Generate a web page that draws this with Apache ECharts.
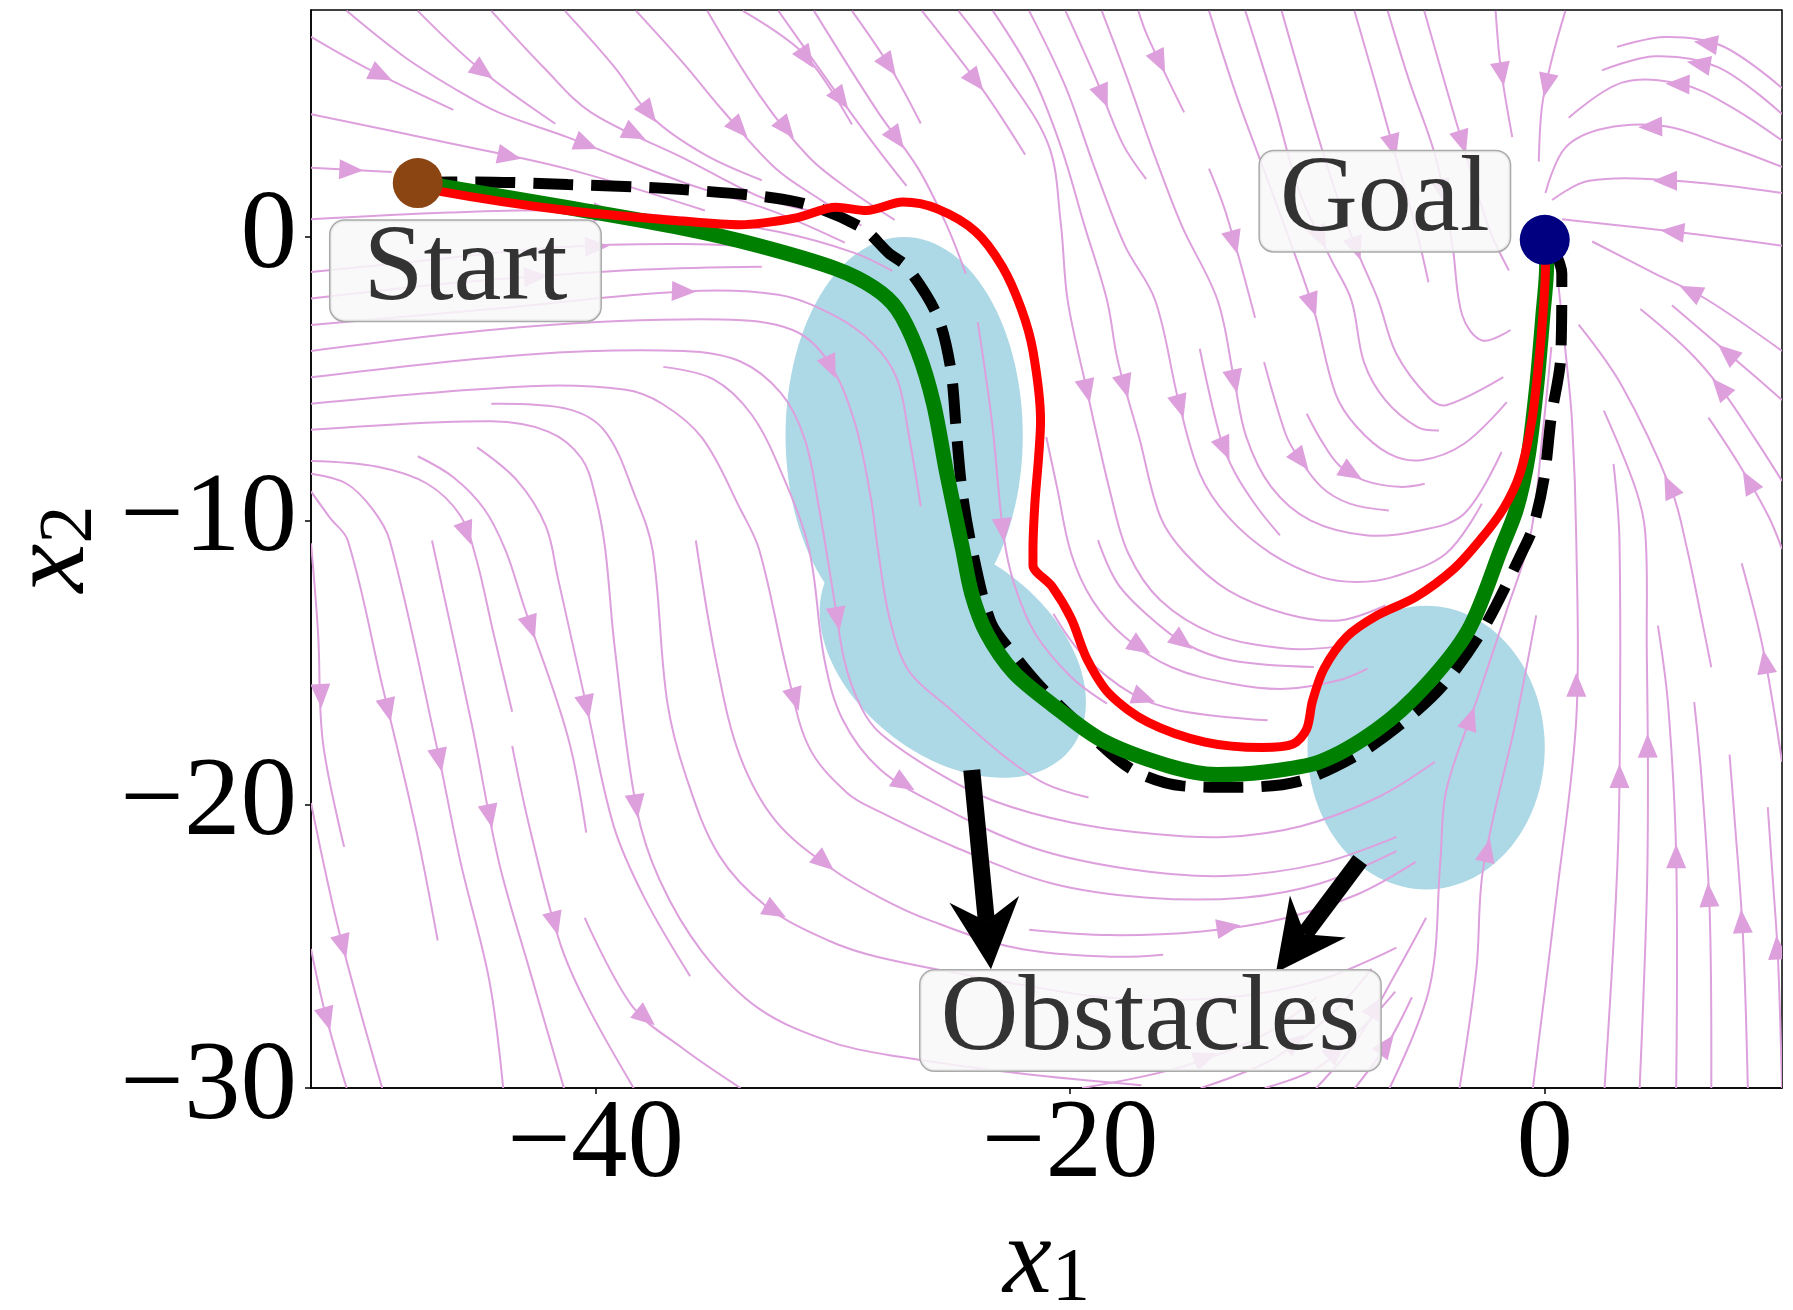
<!DOCTYPE html>
<html lang="en">
<head>
  <meta charset="UTF-8">
  <title>Start / Goal streamplot with obstacles</title>
  <script src="https://cdn.jsdelivr.net/npm/echarts@6/dist/echarts.min.js"></script>
  <style>
    html, body { margin: 0; padding: 0; background: #fff; }
    #chart { width: 1793px; height: 1310px; }
  </style>
</head>
<body>
  <div id="chart"></div>
  <script>
    // axis ticks
    const xTickValues = [-40, -20, 0];
    const yTickValues = [-30, -20, -10, 0];

    // start / goal points
    const startPoint = [-47.5, 1.9];
    const goalPoint = [0, -0.1];

    // obstacles: [cx, cy, rx, ry, angle in degrees]
    const obstacles = [
      [-27, -7, 5, 7, 0],
      [-24.95, -14.8, 6.0, 3.7, -26.7],
      [-5, -18, 5, 5, 0]
    ];

    // trajectories
    const dashedPath = [[-47.52,1.92],[-45.06,1.94],[-41.17,1.85],[-36.34,1.67],[-31.5,1.23],[-28.77,0.32],[-27.66,-0.56],[-26.89,-1.05],[-25.6,-2.78],[-25.04,-4.64],[-24.8,-6.85],[-24.56,-8.95],[-24.15,-10.95],[-23.34,-13.59],[-22.38,-14.72],[-21.25,-15.85],[-19.57,-17.22],[-17.45,-18.75],[-15.28,-19.35],[-12.87,-19.4],[-10.36,-19.19],[-8.0,-18.31],[-6.07,-17.18],[-4.29,-15.81],[-2.6,-13.83],[-0.92,-11.05],[-0.48,-10.2],[-0.02,-8.47],[0.27,-6.37],[0.67,-4.27],[0.72,-1.29],[0.3,-0.3]];
    const greenPath = [[-47.52,1.9],[-46.51,1.79],[-41.17,1.03],[-36.34,0.31],[-33.12,-0.31],[-29.88,-1.12],[-28.27,-1.79],[-27.3,-2.54],[-26.43,-4.02],[-25.76,-5.88],[-25.2,-8.35],[-24.55,-10.95],[-24.15,-12.58],[-23.52,-13.97],[-22.38,-15.35],[-20.77,-16.48],[-18.67,-17.74],[-15.92,-18.63],[-13.83,-18.95],[-11.9,-18.87],[-9.47,-18.5],[-7.06,-17.36],[-5.06,-15.85],[-3.2,-13.83],[-1.81,-10.93],[-1.19,-9.59],[-0.7,-7.73],[-0.34,-5.26],[-0.08,-2.78],[0.08,-0.99],[0.05,-0.1]];
    const redPath = [[-47.52,1.9],[-46.5,1.6],[-41.17,0.93],[-36.34,0.56],[-33.93,0.43],[-31.5,0.68],[-29.88,1.05],[-28.59,0.93],[-27.05,1.23],[-25.6,0.99],[-23.99,0.19],[-22.86,-1.05],[-22.06,-2.54],[-21.57,-4.02],[-21.25,-6.49],[-21.33,-7.73],[-21.49,-9.4],[-21.57,-11.05],[-21.57,-11.57],[-20.77,-12.32],[-19.95,-13.47],[-19.31,-14.85],[-18.35,-16.11],[-16.72,-17.11],[-14.32,-17.81],[-11.9,-18.0],[-10.62,-17.88],[-10.04,-17.36],[-9.79,-16.36],[-9.31,-15.23],[-8.34,-14.09],[-7.06,-13.34],[-5.45,-12.7],[-3.83,-11.7],[-2.73,-10.69],[-1.75,-9.59],[-1.05,-8.35],[-0.55,-6.49],[-0.28,-4.64],[-0.08,-2.78],[0.03,-1.05],[0.0,-0.12]];

    // text annotations: [text, x, y]
    const labels = [
      ['Start', -45.49, -1.19],
      ['Goal', -6.74, 1.26],
      ['Obstacles', -16.62, -27.62]
    ];

    // arrows from the obstacles to the "Obstacles" text: [tail, tip]
    const obstacleArrows = [
      [[-24.15, -18.79], [-23.34, -25.81]],
      [[-7.78, -21.97], [-11.33, -25.93]]
    ];

    // streamlines, in flow order
    const streamlines = [
      // top left, heading south-east
      [[-52.0,7.05],[-49.7,5.97],[-46.0,4.48]],
      [[-50.5,7.97],[-48.1,6.37],[-46.0,5.25],[-44.1,4.39],[-41.2,3.52],[-36.3,1.92],[-32.6,0.93],[-29.5,-0.2]],
      [[-47.5,7.97],[-44.9,5.93],[-41.7,3.99]],
      [[-44.4,7.97],[-42.2,5.98],[-40.2,4.39],[-36.3,2.78],[-33.1,1.42],[-31.0,0.93]],
      [[-41.3,7.97],[-39.2,5.98],[-37.6,4.2],[-35.4,2.9],[-33.0,2.0]],
      [[-38.3,7.97],[-36.3,6.12],[-34.7,4.51],[-32.4,2.4],[-30.5,1.3],[-28.8,0.4]],
      [[-35.3,7.97],[-33.1,5.0],[-31.0,2.8],[-29.2,1.6],[-27.4,0.6]],
      [[-33.8,7.97],[-31.2,6.43],[-29.2,3.96]],
      [[-32.3,7.97],[-29.9,5.13],[-28.3,3.3],[-26.9,1.8]],
      [[-30.8,7.97],[-28.1,4.4],[-26.4,2.4],[-25.2,0.4],[-24.4,-1.3]],
      [[-29.2,7.97],[-27.6,6.0],[-26.3,4.0]],
      // left side, heading east then south
      [[-52.0,4.33],[-46.3,3.33],[-41.2,2.4],[-35.4,0.93]],
      [[-52.0,2.44],[-50.0,2.35],[-48.6,2.29]],
      [[-52.0,0.62],[-46.2,0.86],[-41.2,0.93],[-36.3,0.68],[-32.3,0.18],[-29.1,-0.56],[-27.5,-1.2]],
      [[-52.0,-1.24],[-47.6,-0.87],[-41.7,-0.37],[-36.3,-0.25],[-32.3,-0.43],[-30.0,-0.9],[-28.2,-1.8]],
      [[-52.0,-2.17],[-47.0,-1.7],[-43.0,-1.42],[-38.0,-1.15],[-33.0,-1.05]],
      [[-52.0,-3.1],[-44.4,-2.54],[-36.3,-1.92],[-32.3,-2.04],[-29.9,-2.79],[-28.3,-3.77],[-27.3,-5.0],[-26.8,-7.0],[-26.3,-9.5]],
      [[-52.0,-4.02],[-42.8,-3.16],[-34.7,-2.91],[-31.7,-3.28],[-30.2,-4.39],[-29.1,-6.49],[-28.4,-9.22],[-28.1,-11.05],[-27.6,-13.5],[-26.8,-15.3],[-25.12,-16.6],[-22.86,-18.25],[-21.08,-19.26],[-19.23,-19.76]],
      [[-52.0,-4.95],[-42.8,-4.14],[-36.3,-4.02],[-33.9,-4.39],[-32.2,-5.5],[-31.2,-7.1],[-30.6,-9.5],[-30.0,-12.5],[-29.5,-15.0],[-28.8,-16.6],[-28.0,-17.5],[-25.6,-18.88],[-23.18,-19.89],[-19.96,-20.64],[-16.73,-21.02],[-13.5,-21.15],[-10.28,-20.77],[-7.05,-19.76],[-4.63,-18.5]],
      [[-37.15,-4.58],[-35.05,-5.01],[-33.44,-6.25],[-32.15,-8.35],[-31.0,-11.05],[-30.37,-14.85],[-29.6,-17.0],[-28.02,-18.76],[-25.44,-20.08],[-21.57,-21.53],[-17.54,-22.28],[-13.5,-22.53],[-9.47,-22.09],[-6.25,-21.15]],
      [[-52.0,-5.88],[-42.8,-5.26],[-38.8,-5.38],[-37.2,-5.88],[-35.5,-7.1],[-33.9,-9.6],[-33.1,-11.05],[-31.9,-15.42],[-31.0,-18.0],[-29.4,-19.6],[-28.02,-20.27],[-24.8,-21.53],[-20.76,-22.79],[-16.73,-23.29],[-12.7,-23.29],[-9.47,-22.79],[-6.25,-21.65]],
      [[-35.78,-10.7],[-34.89,-15.1],[-33.92,-18.3],[-32.4,-20.6],[-30.0,-22.3],[-28.02,-23.29],[-26.08,-24.04],[-22.37,-25.05],[-18.34,-25.37],[-16.08,-25.3]],
      [[-21.73,-24.42],[-18.34,-24.61],[-14.47,-24.48],[-11.09,-24.04],[-7.86,-23.16],[-5.44,-22.03]],
      [[-44.4,-5.88],[-41.2,-6.06],[-39.6,-6.86],[-38.3,-9.22],[-37.6,-11.05],[-36.99,-16.36],[-36.2,-19.0],[-34.8,-21.8],[-32.8,-23.6],[-30.2,-24.8],[-28.02,-25.4],[-23.18,-26.19],[-18.34,-26.82],[-13.5,-26.82],[-9.47,-26.19],[-6.25,-25.05]],
      [[-52.0,-6.8],[-44.4,-6.5],[-42.0,-6.86],[-40.6,-7.8],[-40.0,-9.2],[-39.6,-11.0],[-39.2,-14.47],[-38.28,-20.14],[-37.31,-22.66],[-35.53,-25.18],[-33.12,-27.2],[-30.0,-28.4],[-27.18,-28.9],[-22.0,-29.5],[-17.0,-29.9]],
      [[-45.0,-7.42],[-43.3,-8.6],[-42.1,-10.2],[-41.6,-12.0],[-40.37,-16.6],[-39.24,-20.77],[-37.95,-23.29],[-36.02,-26.06]],
      [[-47.5,-7.73],[-46.0,-8.47],[-44.7,-9.59],[-43.8,-11.05],[-43.03,-13.0],[-41.18,-17.6],[-40.4,-21.0]],
      [[-43.52,-17.94],[-42.8,-20.77],[-41.5,-24.9],[-40.37,-27.07],[-38.4,-30.0]],
      [[-40.46,-24.0],[-38.44,-27.14],[-36.34,-28.6],[-33.9,-30.0]],
      [[-52.0,-7.9],[-49.2,-8.1],[-47.1,-8.7],[-45.7,-9.83],[-45.05,-11.3],[-44.3,-14.0],[-43.52,-16.74]],
      [[-46.9,-10.7],[-45.21,-17.24],[-44.08,-22.03],[-42.8,-25.8],[-41.34,-30.0]],
      [[-52.0,-8.35],[-50.5,-8.7],[-49.4,-9.6],[-48.68,-10.7],[-46.74,-17.81],[-45.7,-22.03],[-44.49,-26.19],[-43.9,-30.0]],
      [[-52.0,-8.97],[-51.2,-9.9],[-50.45,-10.7],[-49.0,-15.8],[-47.6,-20.77],[-46.66,-24.8]],
      [[-52.0,-10.8],[-51.7,-14.0],[-51.5,-17.8],[-50.6,-21.5]],
      [[-52.0,-19.95],[-50.78,-24.61],[-49.0,-30.0]],
      [[-52.0,-25.1],[-51.42,-27.3],[-50.5,-30.0]],
      // centre, heading south then curling round towards the goal
      [[-26.25,7.97],[-23.7,5.2],[-21.9,2.9]],
      [[-24.71,7.97],[-22.6,5.6],[-20.9,3.2],[-20.4,0.5],[-20.11,-2.23],[-19.36,-5.17],[-18.3,-9.05],[-17.55,-11.16],[-16.2,-12.81],[-13.94,-13.99],[-10.93,-14.51],[-8.8,-14.45]],
      [[-23.26,7.97],[-21.6,5.7],[-20.4,3.2],[-19.4,0.4],[-18.45,-2.23],[-18.0,-4.35],[-17.1,-7.05],[-16.2,-9.87],[-15.15,-11.16],[-13.34,-12.46],[-10.93,-13.28],[-8.67,-13.52],[-6.71,-12.99]],
      [[-21.73,7.97],[-20.2,5.3],[-19.0,2.5],[-17.7,-0.3],[-16.42,-2.23],[-15.44,-5.76],[-14.54,-8.34],[-13.34,-9.87],[-11.53,-11.16],[-9.42,-11.99],[-7.92,-12.16],[-6.42,-11.99],[-4.16,-11.16],[-2.65,-9.4]],
      [[-20.2,7.97],[-18.91,5.56],[-17.8,3.3],[-16.8,2.04]],
      [[-18.67,7.97],[-17.6,5.6],[-16.5,3.0],[-15.3,0.4],[-13.79,-2.23],[-13.11,-4.94],[-12.58,-7.05],[-11.53,-8.81],[-9.88,-9.99],[-7.47,-10.52],[-5.21,-10.34],[-3.4,-9.76],[-1.82,-7.58]],
      [[-17.13,7.97],[-16.73,7.05],[-15.2,4.39]],
      [[-14.54,-3.94],[-13.64,-7.17],[-13.04,-8.34],[-12.13,-9.52],[-11.16,-10.52]],
      [[-14.15,2.41],[-13.42,0.8],[-12.21,-2.85]],
      [[-14.15,7.97],[-13.0,5.0],[-11.9,2.5],[-10.8,0.0],[-9.73,-2.58],[-8.82,-5.52],[-7.92,-6.7],[-6.57,-7.64],[-5.21,-7.87],[-3.4,-7.29],[-1.6,-5.82]],
      [[-11.83,-4.41],[-10.93,-6.93],[-10.48,-7.64],[-9.42,-8.81],[-8.22,-9.4],[-6.57,-9.64]],
      [[-10.03,-6.23],[-9.42,-7.17],[-8.67,-8.05],[-7.62,-8.58],[-6.12,-8.81],[-5.06,-8.7]],
      [[-12.62,7.97],[-11.4,4.7],[-10.3,1.5],[-9.0,-0.8],[-8.15,-2.23],[-7.62,-4.41],[-6.71,-5.76],[-5.36,-6.7],[-4.46,-6.82]],
      [[-11.09,7.97],[-10.0,4.8],[-8.9,1.8],[-7.9,-0.5],[-7.02,-2.23],[-6.26,-4.11],[-4.91,-5.64],[-4.16,-5.93],[-1.75,-4.94]],
      [[-8.02,7.97],[-7.1,5.3],[-6.2,2.6],[-5.4,0.2],[-4.9,-1.6]],
      [[-6.62,7.97],[-5.71,5.5],[-4.59,2.78],[-3.89,-0.31],[-3.47,-2.78],[-2.63,-3.65],[-1.44,-3.28]],
      [[-5.08,7.97],[-3.61,3.71],[-2.35,0.31],[-1.51,-1.18]],
      [[-2.07,7.97],[-1.86,6.0],[-1.37,3.52]],
      [[0.87,7.97],[0.31,6.3],[-0.11,4.64],[-0.25,2.66]],
      [[-18.83,-10.69],[-18.0,-12.22],[-16.65,-13.4],[-15.15,-14.34],[-13.19,-14.93],[-9.73,-15.16]],
      [[-21.01,-7.05],[-20.56,-8.81],[-19.96,-11.16],[-19.06,-12.81],[-17.7,-14.1],[-15.75,-15.16],[-13.19,-15.75],[-10.93,-15.93],[-8.67,-15.63],[-7.47,-15.22]],
      [[-20.71,-13.28],[-19.51,-14.69],[-17.4,-16.1],[-15.44,-16.69],[-11.68,-17.04]],
      [[-23.9,-3.0],[-23.3,-6.5],[-22.82,-10.46],[-22.37,-12.22],[-21.47,-13.99],[-19.96,-15.51],[-18.45,-16.45]],
      // bottom, heading north-east
      [[-19.5,-30.0],[-15.5,-29.3],[-12.0,-28.2],[-9.6,-26.8]],
      [[-14.5,-30.0],[-11.5,-29.0],[-9.0,-27.4],[-7.3,-25.8]],
      [[-11.8,-30.0],[-9.6,-29.3],[-7.6,-27.8],[-6.3,-26.6]],
      [[-9.63,-30.0],[-7.94,-28.33],[-6.26,-25.93],[-5.0,-24.0]],
      [[-8.0,-30.0],[-6.6,-28.4],[-5.6,-26.8]],
      [[-6.54,-30.0],[-4.85,-26.44],[-4.4,-22.0],[-4.15,-19.51],[-2.88,-16.36],[-1.62,-13.21],[-0.6,-10.5],[-0.09,-6.93],[0.28,-3.88]],
      [[-3.59,-30.0],[-2.88,-25.8],[-2.6,-22.3],[-1.2,-16.99],[-0.36,-13.34]],
      // right of the goal, heading north
      [[-0.5,-30.0],[0.49,-23.29],[1.33,-16.99],[1.33,-10.7],[1.15,-6.5],[0.87,-4.0],[0.55,-1.5]],
      [[2.52,-30.0],[3.0,-23.3],[3.15,-19.3],[3.15,-10.7],[2.9,-8.0]],
      [[4.0,-30.0],[4.3,-23.3],[4.35,-19.0],[4.3,-14.5],[4.24,-10.45],[3.82,-8.85],[2.49,-6.12]],
      [[5.54,-30.0],[5.54,-21.8],[5.2,-16.5],[4.77,-13.7]],
      [[7.02,-30.0],[6.95,-23.7],[6.6,-19.0],[6.3,-16.4]],
      [[8.56,-30.0],[8.35,-24.55],[8.0,-20.5],[7.79,-18.25]],
      [[10.0,-30.0],[9.83,-25.4],[9.6,-22.5],[9.4,-20.1]],
      [[7.02,-15.17],[6.5,-13.0],[6.0,-11.0],[5.36,-8.97],[3.26,-5.26],[1.43,-3.09]],
      [[10.0,-18.5],[9.19,-14.47],[8.3,-11.5]],
      [[10.0,-11.0],[9.42,-9.83],[8.16,-7.98],[6.9,-6.37]],
      [[10.0,-8.6],[8.86,-7.11],[7.46,-5.38],[6.06,-4.02],[4.03,-2.54]],
      [[10.0,-5.75],[8.3,-4.51],[5.36,-2.41]],
      [[10.0,-4.02],[6.76,-2.17],[4.66,-1.3],[2.0,-0.16]],
      // top right, heading west into the goal
      [[10.0,-0.31],[5.5,0.18],[0.73,0.62]],
      [[10.0,1.55],[5.5,1.98],[1.86,1.98],[0.31,1.3]],
      [[10.0,2.47],[7.46,3.27],[5.08,3.9],[2.55,3.83],[0.87,3.15],[0.03,1.55]],
      [[10.0,3.4],[7.74,4.64],[5.78,5.38],[3.26,5.44],[1.01,4.2]],
      [[10.0,4.33],[7.32,5.98],[4.66,6.37],[2.41,5.87]],
      [[10.0,5.25],[7.46,6.74],[5.08,7.05],[3.05,6.7]]
    ];

    const SERIF = "'Liberation Serif', 'Times New Roman', 'DejaVu Serif', serif";
    const PLUM = '#dda0dd';

    function fmtTick(v) {
      return v < 0 ? '\u2212' + Math.abs(v) : String(v);
    }

    // streamline: polyline plus one arrowhead half way along
    function renderStream(params, api) {
      const pts = streamlines[api.value(2)].map(p => api.coord(p));
      const segs = [];
      let total = 0;
      for (let i = 1; i < pts.length; i++) {
        const d = Math.hypot(pts[i][0] - pts[i - 1][0], pts[i][1] - pts[i - 1][1]);
        segs.push(d);
        total += d;
      }
      let rest = total / 2, k = 0;
      while (k < segs.length - 1 && rest > segs[k]) { rest -= segs[k]; k++; }
      const a = pts[k], b = pts[k + 1];
      const t = rest / segs[k];
      const mx = a[0] + (b[0] - a[0]) * t, my = a[1] + (b[1] - a[1]) * t;
      const ux = (b[0] - a[0]) / segs[k], uy = (b[1] - a[1]) / segs[k];
      const L = 24, W = 10;
      const tip = [mx + ux * L / 2, my + uy * L / 2];
      const bx = mx - ux * L / 2, by = my - uy * L / 2;
      return {
        type: 'group',
        children: [
          { type: 'polyline', shape: { points: pts, smooth: 0.35 },
            style: { stroke: PLUM, lineWidth: 2, fill: 'none' } },
          { type: 'polygon', shape: { points: [tip, [bx - uy * W, by + ux * W], [bx + uy * W, by - ux * W]] },
            style: { fill: PLUM } }
        ]
      };
    }

    // obstacle ellipse drawn through the axes
    function renderEllipse(params, api) {
      const cx = api.value(0), cy = api.value(1), rx = api.value(2), ry = api.value(3);
      const ang = api.value(4) * Math.PI / 180;
      const pts = [];
      for (let k = 0; k < 120; k++) {
        const t = k / 120 * 2 * Math.PI;
        const ex = rx * Math.cos(t), ey = ry * Math.sin(t);
        pts.push(api.coord([cx + ex * Math.cos(ang) - ey * Math.sin(ang),
                            cy + ex * Math.sin(ang) + ey * Math.cos(ang)]));
      }
      return { type: 'polygon', shape: { points: pts }, style: { fill: '#add8e6' } };
    }

    // thick black annotation arrow
    function renderArrow(params, api) {
      const tail = api.coord([api.value(0), api.value(1)]);
      const tip = api.coord([api.value(2), api.value(3)]);
      const len = Math.hypot(tip[0] - tail[0], tip[1] - tail[1]);
      const ux = (tip[0] - tail[0]) / len, uy = (tip[1] - tail[1]) / len;
      const headLen = 70, halfW = 35, notch = 22;
      const bx = tip[0] - ux * headLen, by = tip[1] - uy * headLen;
      const nx = bx + ux * notch, ny = by + uy * notch;
      return {
        type: 'group',
        children: [
          { type: 'line', shape: { x1: tail[0], y1: tail[1], x2: nx, y2: ny },
            style: { stroke: '#000', lineWidth: 17 } },
          { type: 'polygon',
            shape: { points: [tip, [bx - uy * halfW, by + ux * halfW], [nx, ny], [bx + uy * halfW, by - ux * halfW]] },
            style: { fill: '#000' } }
        ]
      };
    }

    // annotation box drawn as a text element anchored at a data point
    function renderLabel(params, api) {
      const p = api.coord([api.value(0), api.value(1)]);
      const text = labels[api.value(2)][0];
      const padX = text === 'Start' ? 33 : 20;
      return {
        type: 'text',
        x: p[0], y: p[1],
        style: {
          text: text,
          fontFamily: SERIF, fontSize: 108, lineHeight: 100,
          fill: '#333',
          align: 'center', verticalAlign: 'middle',
          backgroundColor: 'rgba(248,248,248,0.85)',
          borderColor: '#aaaaaa', borderWidth: 1.5, borderRadius: 14,
          padding: [0, padX]
        }
      };
    }

    var chart = echarts.init(document.getElementById('chart'));

    const nameRich = {
      i: { fontFamily: SERIF, fontStyle: 'italic', fontSize: 110, lineHeight: 110, color: '#000' },
      s: { fontFamily: SERIF, fontSize: 76, lineHeight: 54, verticalAlign: 'bottom', color: '#000' }
    };

    const option = {
      animation: false,
      backgroundColor: '#fff',
      textStyle: { fontFamily: SERIF },
      grid: {
        left: 311, right: 11, top: 10, bottom: 222,
        show: true, borderColor: '#000', borderWidth: 1.5,
        containLabel: false, outerBoundsMode: 'none'
      },
      xAxis: {
        type: 'value', min: -52, max: 10,
        splitLine: { show: false },
        axisLine: { show: true, onZero: false, lineStyle: { color: '#000', width: 1.5 } },
        axisTick: { show: true, customValues: xTickValues, length: 6, lineStyle: { color: '#000', width: 1.5 } },
        axisLabel: { customValues: xTickValues, formatter: fmtTick, fontFamily: SERIF, fontSize: 113, color: '#000', margin: 2 },
        name: '{i|x}{s|1}',
        nameLocation: 'middle',
        nameGap: 99,
        nameTextStyle: { color: '#000', fontFamily: SERIF, rich: nameRich }
      },
      yAxis: {
        type: 'value', min: -30, max: 8,
        splitLine: { show: false },
        axisLine: { show: true, onZero: false, lineStyle: { color: '#000', width: 1.5 } },
        axisTick: { show: true, customValues: yTickValues, length: 6, lineStyle: { color: '#000', width: 1.5 } },
        axisLabel: { customValues: yTickValues, formatter: fmtTick, fontFamily: SERIF, fontSize: 113, color: '#000', margin: 14 },
        name: '{i|x}{s|2}',
        nameLocation: 'middle',
        nameRotate: 90,
        nameGap: 188,
        nameTextStyle: { color: '#000', fontFamily: SERIF, rich: nameRich }
      },
      series: [
        {
          type: 'custom', name: 'obstacles', z: 1, silent: true, clip: true,
          data: obstacles,
          encode: { x: 0, y: 1 },
          renderItem: renderEllipse
        },
        {
          type: 'custom', name: 'streamlines', z: 2, silent: true, clip: true,
          data: streamlines.map((s, i) => [s[0][0], s[0][1], i]),
          encode: { x: 0, y: 1 },
          renderItem: renderStream
        },
        {
          type: 'line', name: 'dashed', z: 3, silent: true,
          data: dashedPath, symbol: 'none', smooth: 0.3,
          lineStyle: { color: '#000', width: 11, type: [40, 18], cap: 'butt' }
        },
        {
          type: 'line', name: 'green', z: 4, silent: true,
          data: greenPath, symbol: 'none', smooth: 0.3,
          lineStyle: { color: '#008000', width: 15 }
        },
        {
          type: 'line', name: 'red', z: 5, silent: true,
          data: redPath, symbol: 'none', smooth: 0.3,
          lineStyle: { color: '#ff0000', width: 9 }
        },
        {
          type: 'scatter', name: 'start', z: 6, silent: true,
          data: [startPoint], symbol: 'circle', symbolSize: 50,
          itemStyle: { color: '#8b4513', opacity: 1 }
        },
        {
          type: 'scatter', name: 'goal', z: 6, silent: true,
          data: [goalPoint], symbol: 'circle', symbolSize: 50,
          itemStyle: { color: '#000080', opacity: 1 }
        },
        {
          type: 'custom', name: 'arrows', z: 7, silent: true,
          data: obstacleArrows.map(a => [a[0][0], a[0][1], a[1][0], a[1][1]]),
          encode: { x: 0, y: 1 },
          renderItem: renderArrow
        },
        {
          type: 'custom', name: 'labels', z: 8, silent: true, clip: false,
          data: labels.map((l, i) => [l[1], l[2], i]),
          encode: { x: 0, y: 1 },
          renderItem: renderLabel
        }
      ]
    };

    chart.setOption(option);
  </script>
</body>
</html>
